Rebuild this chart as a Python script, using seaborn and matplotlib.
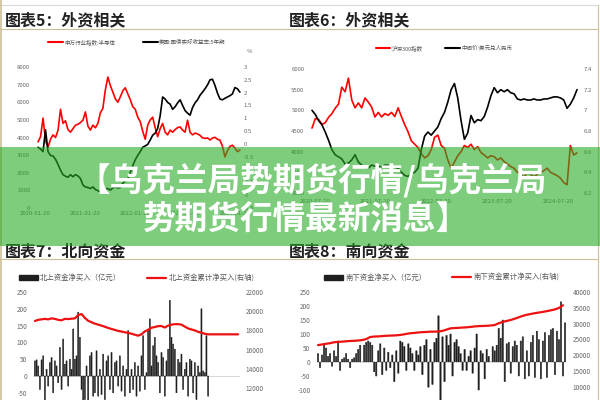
import matplotlib
matplotlib.use('Agg')
import matplotlib.pyplot as plt
import matplotlib.dates as mdates
from matplotlib.lines import Line2D
from matplotlib.patches import Rectangle, Patch
from matplotlib.ticker import FuncFormatter, MultipleLocator
import seaborn as sns
import pandas as pd

sns.set_style('white')
plt.rcParams['font.family'] = ['Noto Sans CJK SC', 'DejaVu Sans']
plt.rcParams['axes.unicode_minus'] = False

# ---- 图表5: 半导体指数 vs 美国5年期实际利率 ----
semi_index = [3750, 4050, 5100, 3800, 3460, 3900, 4150, 4000, 4400, 5600,
              4800, 4950, 4450, 4300, 4500, 4700, 4750, 4850, 4980, 5450,
              4650, 4420, 4700, 4550, 4800, 5400, 5650, 6700, 7430, 6950,
              6580, 6200, 6000, 6300, 6650, 6820, 6480, 6150, 5750, 5600,
              5160, 4900, 4350, 3900, 4700, 5000, 5150, 4550, 4050, 4500,
              4800, 4300, 4150, 4420, 4300, 4450, 4560, 4600, 4420, 4300,
              4980, 4300, 4150, 4250, 4200, 4120, 3980, 3950, 3980, 3860,
              3970, 4010, 3900, 3850, 3500, 2900, 3250, 3500, 3560, 3400,
              3200, 3290]
us_real_yield = [-0.13, -0.2, -0.3, 0.55, -0.3, -0.45, -0.47, -0.6, -0.8, -1.02,
                 -1.2, -1.26, -1.3, -1.2, -1.28, -1.2, -1.25, -1.35, -1.6, -1.68,
                 -1.7, -1.74, -1.68, -1.78, -1.82, -1.88, -1.8, -1.76, -1.74, -1.8,
                 -1.72, -1.68, -1.72, -1.7, -1.53, -1.45, -1.38, -1.12, -0.85, -0.62,
                 -0.45, -0.3, -0.13, -0.08, -0.02, 0.15, 0.34, 0.42, 0.6, 1.1,
                 1.83, 1.75, 1.62, 1.55, 1.35, 1.45, 1.6, 1.72, 1.5, 1.3,
                 1.2, 1.12, 1.42, 1.6, 1.72, 1.9, 2.02, 2.15, 2.3, 2.5,
                 2.52, 2.28, 1.98, 1.75, 1.72, 1.78, 1.83, 1.88, 1.95, 2.2,
                 2.15, 2.02]
p5_start, p5_end = '2020-02-11', '2024-02-25'
p5_ticks = ['2020-01-20', '2021-01-20', '2022-01-20', '2023-01-20', '2024-01-20']

# ---- 图表6: 沪深300 vs 美元兑人民币中间价 ----
csi300 = [4570, 4800, 4780, 4660, 4700, 4830, 4920, 5050, 5150, 5560,
          5450, 5780, 5250, 5060, 5180, 5060, 5300, 5200, 5080, 4840,
          4950, 4840, 4920, 4880, 4950, 4850, 5060, 4850, 4650, 4480,
          4260, 4180, 4100, 3950, 3850, 3900, 4050, 4350, 4400, 4150,
          4080, 3800, 3600, 3750, 3900, 4000, 4150, 4100, 4180, 4050,
          4120, 3980, 3920, 3850, 3900, 3880, 3800, 3850, 3760, 3700,
          3640, 3600, 3500, 3460, 3380, 3500, 3450, 3390, 3450, 3500,
          3540, 3600, 3500, 3460, 3420, 3360, 3250, 3200, 4150, 3920,
          3970]
usdcny = [7.00, 6.96, 6.90, 6.86, 6.79, 6.71, 6.62, 6.57, 6.55, 6.53,
          6.48, 6.49, 6.52, 6.57, 6.50, 6.47, 6.45, 6.44, 6.47, 6.46,
          6.46, 6.45, 6.47, 6.47, 6.46, 6.45, 6.44, 6.40, 6.37, 6.36,
          6.39, 6.40, 6.44, 6.62, 6.75, 6.79, 6.76, 6.80, 6.84, 6.92,
          6.98, 7.08, 7.20, 7.26, 7.12, 6.90, 6.72, 6.78, 6.95, 6.88,
          6.91, 6.90, 6.94, 7.03, 7.14, 7.22, 7.17, 7.20, 7.18, 7.20,
          7.17, 7.16, 7.11, 7.10, 7.11, 7.10, 7.10, 7.11, 7.10, 7.10,
          7.11, 7.11, 7.12, 7.13, 7.13, 7.12, 7.10, 7.02, 7.06, 7.12,
          7.20]
p6_start, p6_end = '2020-07-02', '2024-11-13'
p6_ticks = ['2020-07-20', '2021-07-20', '2022-07-20', '2023-07-20', '2024-07-20']

# ---- 图表7: 北向资金 ----
north_net = [45, 48, 30, -40, 48, 60, -80, 20, -30, 40,
             55, -50, 45, 30, -20, 85, -40, 110, 35, 45,
             -30, 50, 20, 140, 50, 60, 190, 115, -40, -90,
             -70, 30, -80, 60, 70, -60, -50, 75, -60, 20,
             -55, 65, -70, 45, 60, -40, 70, -50, 40, 45,
             -30, 60, -45, 30, -60, 20, 135, -50, 20, -40,
             40, -60, 30, -45, 60, 120, -40, 10, 140, 170,
             30, 90, 115, 60, 40, -50, 70, 55, -60, 45,
             80, 225, 115, 95, 80, -50, 50, 40, 65, -40,
             20, 40, -60, 50, 45, -50, 40, -70, 30, 10,
             200, 15, 10, 120, -60]
north_cum = [18980, 19100, 19150, 19200, 19150, 19250, 19200, 19100, 19050, 19200,
             19180, 19220, 19250, 19600, 19700, 19300, 19000, 18850, 18700, 18600,
             18500, 18380, 18250, 18150, 18050, 17950, 17880, 17800, 17750, 17650,
             17550, 17450, 17600, 17900, 18050, 18280, 18350, 18450, 18450, 18300,
             18500, 18600, 18650, 18650, 18600, 18400, 18200, 18100, 18000, 17850,
             17750, 17650, 17590, 17590, 17590, 17590, 17590, 17590, 17590, 17590,
             17590, 17590]
p7_start = '2022-01-03'

# ---- 图表8: 南向资金 ----
south_net = [30, -20, 25, 65, 50, 20, 30, -15, 40, 20,
             75, -30, 10, 15, 30, 10, -20, 10, 15, 30,
             45, 60, 0, 60, 70, 75, 70, 60, -35, -50,
             40, 65, -45, 50, -30, 35, -20, 25, -70, 40,
             -40, 75, 70, 55, -30, 65, 50, 30, -30, 40,
             25, 55, -45, 60, 80, -90, 45, -80, 70, 85,
             165, -150, 90, -70, 95, 60, 100, -50, 70, 80,
             55, 30, -30, 45, -30, 20, 40, -40, 50, 100,
             -100, 40, 30, -60, 45, 20, 0, 55, 40, 60,
             120, 85, 150, -70, 65, 70, -40, 55, 75, 60,
             -50, 75, 90, -60, 40, -50, 70, 95, -55, 110,
             80, -60, 75, 105, -55, 95, 115, 120, -45, 110,
             80, 215, -50, 140]
south_cum = [23200, 23400, 23600, 23800, 24100, 24200, 24300, 24400, 24500, 24550,
             24650, 24800, 25100, 25750, 25900, 25950, 26050, 26150, 26200, 26250,
             26350, 26500, 26750, 26950, 27050, 27200, 27300, 27350, 27450, 27450,
             27500, 27700, 28100, 28500, 28600, 28650, 28750, 28820, 28950, 29100,
             29200, 29250, 29300, 29400, 29550, 30100, 30550, 30850, 31150, 31550,
             32000, 32450, 32800, 33050, 33300, 33500, 33700, 33950, 34200, 34500,
             34950, 35800]
p8_start = '2022-07-04'

W, H = 600, 400
fig = plt.figure(figsize=(6, 4), dpi=100)
fig.patch.set_facecolor('white')

TICK = '#666666'
TAN = '#cdbf98'
BAR = '#1e1e1e'


def box(x0, y0, x1, y1):
    # pixel box -> figure fraction
    return [x0 / W, 1 - y1 / H, (x1 - x0) / W, (y1 - y0) / H]


def style(ax, size=4.3, pad=2):
    for s in ax.spines.values():
        s.set_visible(False)
    ax.tick_params(length=0, labelsize=size, colors=TICK, pad=pad)
    ax.set_xlabel('')
    ax.set_ylabel('')
    ax.grid(False)


def num_fmt(v, _):
    return '%g' % round(v, 2)


def small_legend(ax, handles, labels, y, size=4, spacing=3.5):
    return ax.legend(handles, labels, ncol=2, loc='center', bbox_to_anchor=(0.5, y),
                     frameon=False, fontsize=size, handlelength=2.6, handletextpad=0.3,
                     columnspacing=spacing, labelcolor='#555555')


# ---- panel 5 ----
ax5 = fig.add_axes(box(33, 67, 241, 208))
ax5b = ax5.twinx()
d5a = pd.date_range(p5_start, p5_end, periods=len(semi_index))
d5b = pd.date_range(p5_start, p5_end, periods=len(us_real_yield))
sns.lineplot(x=d5a, y=semi_index, ax=ax5, color='#ff0000', lw=1.2)
sns.lineplot(x=d5b, y=us_real_yield, ax=ax5b, color='black', lw=1.2)
ax5.set_ylim(0, 8000)
ax5.yaxis.set_major_locator(MultipleLocator(1000))
ax5b.set_ylim(-2.5, 3)
ax5b.yaxis.set_major_locator(MultipleLocator(0.5))
ax5b.yaxis.set_major_formatter(FuncFormatter(num_fmt))
ax5.set_xlim(pd.Timestamp('2020-01-05'), pd.Timestamp('2024-03-04'))
ax5.set_xticks(pd.to_datetime(p5_ticks))
ax5.xaxis.set_major_formatter(mdates.DateFormatter('%Y-%m-%d'))
for a in (ax5, ax5b):
    style(a)
ax5b.text(1.03, 1.1, '%', transform=ax5b.transAxes, fontsize=4.3, color=TICK)
small_legend(ax5b, [Line2D([], [], color='#ff0000', lw=1.5), Line2D([], [], color='black', lw=1.5)],
             ['申万行业指数:半导体', '美国:国债实际收益率:5年期'], 1.177, spacing=5)

# ---- panel 6 ----
ax6 = fig.add_axes(box(310, 69, 578, 193))
ax6b = ax6.twinx()
d6a = pd.date_range(p6_start, p6_end, periods=len(csi300))
d6b = pd.date_range(p6_start, p6_end, periods=len(usdcny))
sns.lineplot(x=d6a, y=csi300, ax=ax6, color='#ff0000', lw=1.2)
sns.lineplot(x=d6b, y=usdcny, ax=ax6b, color='black', lw=1.2)
ax6.set_ylim(3000, 6000)
ax6.yaxis.set_major_locator(MultipleLocator(500))
ax6b.set_ylim(6.2, 7.4)
ax6b.yaxis.set_major_locator(MultipleLocator(0.2))
ax6b.yaxis.set_major_formatter(FuncFormatter(num_fmt))
ax6.set_xlim(pd.Timestamp('2020-06-20'), pd.Timestamp('2024-11-19'))
ax6.set_xticks(pd.to_datetime(p6_ticks))
ax6.xaxis.set_major_formatter(mdates.DateFormatter('%Y-%m-%d'))
for a in (ax6, ax6b):
    style(a, pad=4)
small_legend(ax6b, [Line2D([], [], color='#ff0000', lw=1.5), Line2D([], [], color='black', lw=1.5)],
             ['沪深300指数', '中间价:美元兑人民币'], 1.17, spacing=4)

# ---- panel 7 ----
ax7 = fig.add_axes(box(33, 292, 240, 460))
ax7b = ax7.twinx()
d7_bar = pd.date_range(p7_start, periods=len(north_net), freq='7D')
d7_line = pd.date_range(p7_start, periods=len(north_cum), freq='14D')
ax7.axhline(0, color='#d0d0d0', lw=0.6, zorder=0)
ax7.bar(d7_bar, north_net, width=4.5, color=BAR, edgecolor=BAR, linewidth=0.35, snap=False)
sns.lineplot(x=d7_line, y=north_cum, ax=ax7b, color='#ee1111', lw=1.6)
ax7.set_ylim(-250, 250)
ax7.yaxis.set_major_locator(MultipleLocator(50))
ax7b.set_ylim(4500, 22000)
ax7b.yaxis.set_major_locator(MultipleLocator(2000))
ax7.set_xlim(d7_bar[0] - pd.Timedelta(days=8), d7_line[-1] + pd.Timedelta(days=8))
ax7.set_xticks([])
for a in (ax7, ax7b):
    style(a, size=4.6, pad=4)
small_legend(ax7b, [Patch(color=BAR), Line2D([], [], color='#ee1111', lw=1.6)],
             ['北上资金净买入（亿元）', '北上资金累计净买入(右轴)'], 1.083, size=5.3)

# ---- panel 8 ----
ax8 = fig.add_axes(box(316, 292, 567, 432))
ax8b = ax8.twinx()
d8_bar = pd.date_range(p8_start, periods=len(south_net), freq='7D')
d8_line = pd.date_range(p8_start, periods=len(south_cum), freq='14D')
ax8.bar(d8_bar, south_net, width=4.5, color=BAR, edgecolor=BAR, linewidth=0.35, snap=False)
sns.lineplot(x=d8_line, y=south_cum, ax=ax8b, color='#ee1111', lw=1.6)
ax8.set_ylim(-250, 250)
ax8.yaxis.set_major_locator(MultipleLocator(50))
ax8b.set_ylim(-4304, 40000)
ax8b.yaxis.set_major_locator(MultipleLocator(5000))
ax8.set_xlim(d8_bar[0] - pd.Timedelta(days=7), d8_bar[-1] + pd.Timedelta(days=7))
ax8.set_xticks([])
for a in (ax8, ax8b):
    style(a, size=4.6, pad=4)
small_legend(ax8b, [Patch(color=BAR), Line2D([], [], color='#ee1111', lw=1.6)],
             ['南下资金净买入（亿元）', '南下资金累计净买入(右轴)'], 1.1, size=5.3)


# ---- page frame and section titles ----
def hline(y, x0, x1, color, lw=0.8):
    fig.add_artist(Line2D([x0 / W, x1 / W], [1 - y / H, 1 - y / H], color=color, lw=lw,
                          transform=fig.transFigure))


def vline(x, y0, y1, color, lw=0.8):
    fig.add_artist(Line2D([x / W, x / W], [1 - y0 / H, 1 - y1 / H], color=color, lw=lw,
                          transform=fig.transFigure))


hline(5, 0, 597, '#d8d8d8')
hline(28.5, 0, 597, TAN)
hline(259, 0, 597, TAN)
vline(1, 0, 400, TAN, lw=1.2)
vline(597.5, 5, 400, TAN, lw=0.8)

title_kw = dict(fontsize=11.5, fontweight='bold', color='#222222', va='center', ha='left')
fig.text(5 / W, 1 - 20 / H, '图表5：外资相关', **title_kw)
fig.text(289 / W, 1 - 20 / H, '图表6：外资相关', **title_kw)
fig.text(5 / W, 1 - 251 / H, '图表7：北向资金', **title_kw)
fig.text(289 / W, 1 - 251 / H, '图表8：南向资金', **title_kw)

# ---- green banner overlay ----
fig.patches.append(Rectangle((0, 1 - 246 / H), 1, 99 / H, transform=fig.transFigure,
                             facecolor='#26ac26', alpha=0.6, edgecolor='none', zorder=10))
banner_kw = dict(fontsize=23.5, fontweight='bold', color='white', ha='center', va='center', zorder=11)
fig.text(312 / W, 1 - 181 / H, '【乌克兰局势期货行情/乌克兰局', **banner_kw)
fig.text(306 / W, 1 - 219 / H, '势期货行情最新消息】', **banner_kw)

fig.savefig('out.png', dpi=100)
